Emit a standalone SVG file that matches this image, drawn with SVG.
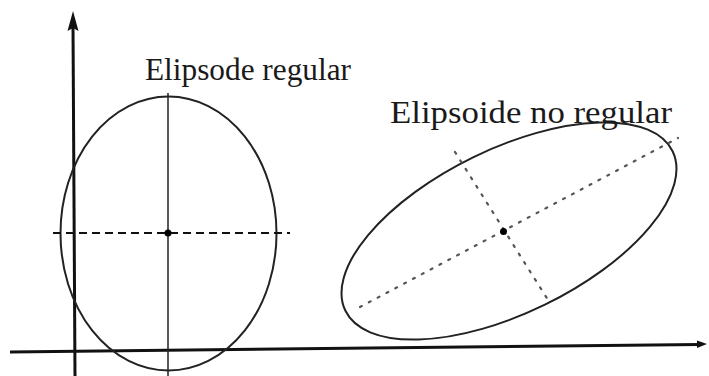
<svg xmlns="http://www.w3.org/2000/svg" width="709" height="376" viewBox="0 0 709 376">
<style>
.axis{stroke:#111;stroke-width:3;fill:none}
.ell{stroke:#222;stroke-width:2;fill:none}
.solid{stroke:#222;stroke-width:1.5}
.dash{stroke:#111;stroke-width:2;stroke-dasharray:8 5}
.dot{stroke:#555;stroke-width:2.2;stroke-dasharray:2 8;stroke-linecap:round}
.lbl{font-family:"Liberation Serif","DejaVu Serif",serif;font-size:32px;fill:#1a1a1a}
.head{fill:#111}
</style>
<rect width="709" height="376" fill="#fff"/>
<g id="connectors">
<line class="axis" x1="75" y1="376" x2="73" y2="26"/>
<path class="head" d="M73,11 L78.5,31 L73,28 L67.5,31 z"/>
<line class="axis" x1="10" y1="352" x2="700" y2="344.5"/>
<path class="head" d="M697,340.5 L707,344 L697,348 z"/>
</g>
<g id="ellipse-regular">
<ellipse class="ell" cx="168.5" cy="233.5" rx="108" ry="137"/>
<line class="solid" x1="168" y1="93" x2="168" y2="376"/>
<line class="dash" x1="53" y1="233" x2="290" y2="233"/>
<circle cx="168" cy="233" r="3.5" fill="#000"/>
<text class="lbl" x="145" y="80" textLength="206" lengthAdjust="spacingAndGlyphs">Elipsode regular</text>
</g>
<g id="ellipse-no-regular">
<ellipse class="ell" cx="509" cy="231" rx="182" ry="82" transform="rotate(-26 509 231)"/>
<line class="dot" x1="360" y1="307" x2="678" y2="138"/>
<line class="dot" x1="455" y1="152" x2="548" y2="300"/>
<circle cx="503.5" cy="231.5" r="3.5" fill="#000"/>
<text class="lbl" x="390" y="123" textLength="282" lengthAdjust="spacingAndGlyphs">Elipsoide no regular</text>
</g>
</svg>
